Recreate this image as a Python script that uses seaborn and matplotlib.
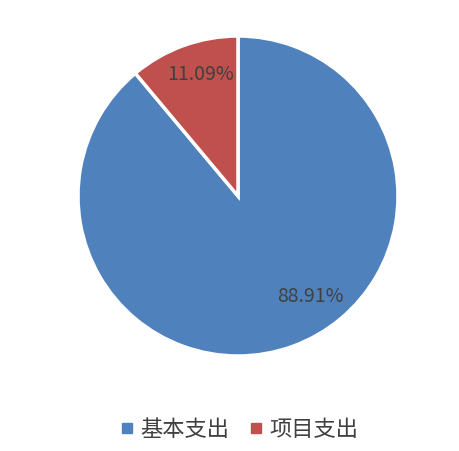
import matplotlib
matplotlib.use("Agg")
import matplotlib.pyplot as plt
import seaborn as sns
import numpy as np
from matplotlib.lines import Line2D

sns.set_theme(style="white")
plt.rcParams['font.family'] = ['Noto Sans CJK SC', 'DejaVu Sans']

categories = ["基本支出", "项目支出"]
values = [88.91, 11.09]
labels_pct = ["88.91%", "11.09%"]
colors = ["#4F81BD", "#C0504D"]

fig = plt.figure(figsize=(4.6, 4.52), dpi=100)
ax = fig.add_axes([78/460, 95/452, 320/460, 320/452])

wedges, texts = ax.pie(values, colors=colors, startangle=90, counterclock=False,
                       labels=labels_pct, labeldistance=0.78,
                       wedgeprops=dict(edgecolor="white", linewidth=2.5),
                       textprops=dict(color="#404040", fontsize=14, ha="center", va="center"))
# reposition labels like Excel best-fit
ang = np.deg2rad(-54)
texts[0].set_position((0.77*np.cos(ang), 0.77*np.sin(ang)))
ang2 = np.deg2rad(107)
texts[1].set_position((0.80*np.cos(ang2), 0.80*np.sin(ang2)))
ax.set_xlim(-1, 1)
ax.set_ylim(-1, 1)
ax.set_aspect("equal")
ax.axis("off")

handles = [Line2D([0], [0], marker="s", linestyle="none", markersize=7,
                  markerfacecolor=c, markeredgecolor=c) for c in colors]
fig.legend(handles, categories, loc="center", bbox_to_anchor=(238/460, 22/452),
           ncol=2, frameon=False, fontsize=16, handletextpad=0.2, columnspacing=0.8,
           handlelength=0.8, labelcolor="#404040")

fig.savefig("out.png", dpi=100)
